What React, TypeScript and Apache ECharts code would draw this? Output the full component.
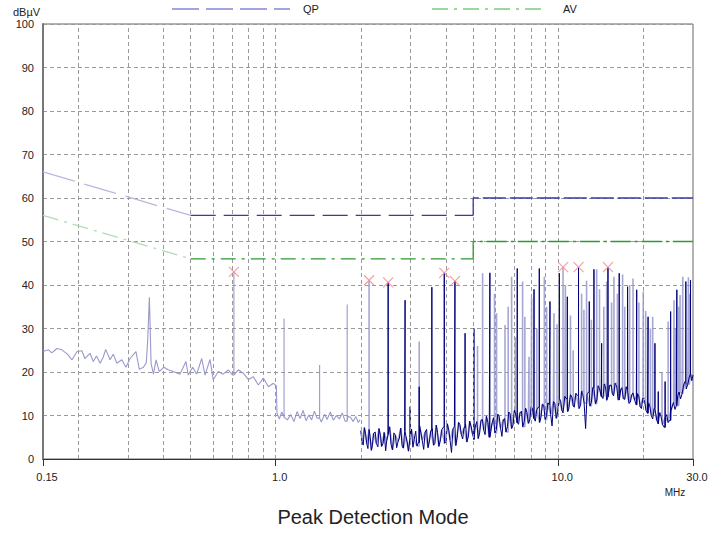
import React, { useEffect, useRef } from "react";
import * as echarts from "echarts";

// ---- axis / tick data ----
const xTickValues = [0.15, 1, 10, 30];
const xTickTexts = ["0.15", "1.0", "10.0", "30.0"];
const xGridValues = [0.2, 0.3, 0.4, 0.5, 0.6, 0.7, 0.8, 0.9, 1, 2, 3, 4, 5, 6, 7, 8, 9, 10, 20];

// ---- limit lines (MHz, dBµV) ----
const qpLimitFaded = [[0.15, 66], [0.5, 56]];
const qpLimitLow = [[0.5, 56], [5, 56]];
const qpLimitHigh = [[5, 56], [5, 60], [30, 60]];
const avLimitFaded = [[0.15, 56], [0.5, 46]];
const avLimitLow = [[0.5, 46], [5, 46]];
const avLimitHigh = [[5, 46], [5, 50], [30, 50]];

// ---- measured trace: low band (light trace) ----
const lowFloor = [
  [0.150, 24.7], [0.157, 25.1], [0.161, 24.4], [0.168, 25.4], [0.175, 25.1], [0.183, 24.1], [0.190, 22.8],
  [0.198, 24.7], [0.206, 24.9], [0.211, 23.1], [0.220, 24.3], [0.226, 22.4], [0.232, 23.7], [0.239, 22.0],
  [0.245, 23.4], [0.250, 25.2], [0.259, 22.8], [0.266, 24.1], [0.274, 22.0], [0.285, 22.8], [0.295, 21.1],
  [0.305, 23.1], [0.320, 24.7], [0.329, 20.6], [0.340, 21.1], [0.348, 22.1], [0.352, 27.0], [0.357, 37.2],
  [0.362, 22.0], [0.369, 19.5], [0.377, 22.8], [0.387, 20.1], [0.402, 21.1], [0.416, 20.5], [0.434, 20.1],
  [0.458, 19.5], [0.481, 22.4], [0.490, 19.3], [0.508, 21.1], [0.525, 19.5], [0.547, 23.1], [0.562, 19.3],
  [0.585, 22.9], [0.601, 18.2], [0.626, 20.1], [0.652, 19.5], [0.679, 20.5], [0.704, 19.3], [0.737, 20.5],
  [0.768, 19.7], [0.800, 18.3], [0.833, 18.9], [0.868, 17.0], [0.904, 18.6], [0.942, 16.6], [0.981, 17.4],
  [1.005, 16.8], [1.010, 10.5], [1.03, 9.2], [1.05, 10.8], [1.07, 9.6], [1.10, 9.0], [1.13, 10.2],
  [1.16, 8.6], [1.19, 10.9], [1.22, 9.3], [1.25, 11.2], [1.28, 8.8], [1.31, 10.1], [1.34, 9.0],
  [1.37, 11.0], [1.40, 9.4], [1.45, 8.5], [1.49, 10.3], [1.52, 9.1], [1.56, 10.8], [1.60, 8.9],
  [1.64, 10.0], [1.68, 9.2], [1.72, 10.6], [1.76, 8.7], [1.80, 9.8], [1.84, 9.6], [1.88, 8.6],
  [1.92, 9.8], [1.96, 8.4], [1.985, 9.0],
];

// ---- measured trace: 2–30 MHz noise floor (two interleaved reads of the band) ----
const highFloor = [
  [2.00, 6.5], [2.04, 3.2], [2.08, 5.8], [2.12, 2.4], [2.16, 4.9], [2.20, 3.1], [2.25, 6.2], [2.30, 2.8],
  [2.35, 5.4], [2.40, 3.6], [2.45, 1.9], [2.50, 5.7], [2.56, 3.3], [2.62, 6.0], [2.68, 2.6], [2.74, 4.8],
  [2.80, 3.0], [2.86, 6.3], [2.92, 3.9], [2.99, 5.1], [3.06, 2.7], [3.13, 6.4], [3.20, 3.8], [3.27, 5.9],
  [3.34, 2.2], [3.42, 6.8], [3.50, 4.1], [3.58, 7.0], [3.66, 3.5], [3.74, 6.1], [3.83, 4.4], [3.92, 7.3],
  [4.01, 4.0], [4.10, 6.6], [4.19, 1.5], [4.29, 7.5], [4.39, 5.0], [4.49, 7.9], [4.59, 4.6], [4.70, 8.0],
  [4.81, 5.3], [4.92, 7.4], [5.03, 4.5], [5.15, 8.6], [5.27, 6.0], [5.39, 9.1], [5.51, 5.6], [5.64, 8.4],
  [5.77, 6.3], [5.90, 9.5], [6.04, 6.9], [6.18, 9.8], [6.32, 5.2], [6.46, 9.3], [6.61, 7.4], [6.76, 10.4],
  [6.92, 7.8], [7.08, 10.1], [7.24, 8.0], [7.41, 11.0], [7.58, 8.6], [7.75, 10.7], [7.93, 9.0], [8.11, 11.6],
  [8.30, 8.7], [8.49, 11.9], [8.69, 9.6], [8.89, 12.2], [9.09, 10.0], [9.30, 12.5], [9.51, 7.6], [9.73, 12.8],
  [9.96, 10.9], [10.2, 13.4], [10.4, 10.6], [10.7, 13.8], [10.9, 11.5], [11.2, 14.1], [11.4, 11.9], [11.7, 14.6],
  [12.0, 12.3], [12.2, 15.0], [12.5, 7.0], [12.8, 15.4], [13.1, 13.0], [13.4, 15.9], [13.7, 13.6], [14.0, 16.2],
  [14.4, 13.9], [14.7, 16.6], [15.0, 14.3], [15.4, 17.0], [15.7, 14.5], [16.1, 16.8], [16.5, 14.0], [16.8, 16.4],
  [17.2, 13.7], [17.6, 15.8], [18.0, 13.1], [18.4, 15.2], [18.9, 12.4], [19.3, 14.3], [19.7, 11.6], [20.2, 13.4],
  [20.7, 10.5], [21.1, 12.1], [21.6, 9.2], [22.1, 10.8], [22.6, 8.1], [23.1, 9.9], [23.7, 7.3], [24.2, 10.2],
  [24.8, 8.9], [25.3, 12.0], [25.9, 11.4], [26.5, 14.6], [27.1, 13.8], [27.8, 17.0], [28.4, 16.1], [29.1, 18.8],
  [29.7, 18.0], [30.0, 19.3],
];
const highFloorMid = [
  [2.02, 4.0], [2.06, 7.2], [2.10, 3.5], [2.14, 6.8], [2.18, 2.0], [2.22, 5.9], [2.27, 3.6], [2.32, 7.0],
  [2.37, 2.9], [2.42, 6.1], [2.47, 4.2], [2.53, 7.4], [2.59, 2.1], [2.65, 5.5], [2.71, 4.0], [2.77, 7.1],
  [2.83, 2.5], [2.89, 5.2], [2.95, 1.8], [3.02, 6.9], [3.09, 4.5], [3.16, 3.0], [3.23, 7.6], [3.30, 4.3],
  [3.38, 6.2], [3.46, 2.6], [3.54, 6.5], [3.62, 3.2], [3.70, 7.8], [3.78, 2.9], [3.87, 6.7], [3.96, 3.6],
  [4.05, 8.1], [4.14, 4.4], [4.24, 6.9], [4.34, 3.1], [4.44, 8.4], [4.54, 5.6], [4.64, 7.2], [4.75, 3.9],
  [4.86, 8.7], [4.97, 5.8], [5.09, 7.6], [5.21, 4.7], [5.33, 8.9], [5.45, 6.6], [5.57, 9.8], [5.70, 5.0],
  [5.83, 8.2], [5.97, 6.0], [6.11, 10.3], [6.25, 7.1], [6.39, 9.0], [6.53, 6.2], [6.68, 10.8], [6.84, 7.0],
  [7.00, 11.2], [7.16, 8.3], [7.32, 10.6], [7.49, 7.4], [7.66, 11.7], [7.84, 8.2], [8.02, 12.0], [8.20, 9.3],
  [8.39, 11.3], [8.59, 8.4], [8.79, 12.6], [8.99, 9.1], [9.19, 12.9], [9.40, 10.2], [9.62, 13.2], [9.84, 9.4],
  [10.08, 13.9], [10.3, 11.2], [10.55, 14.4], [10.8, 10.9], [11.05, 14.8], [11.3, 12.2], [11.55, 15.1], [11.85, 11.6],
  [12.1, 15.6], [12.35, 12.9], [12.65, 14.8], [12.95, 12.2], [13.25, 16.4], [13.55, 12.7], [13.85, 16.8], [14.2, 14.4],
  [14.55, 17.2], [14.85, 13.5], [15.2, 16.9], [15.55, 15.0], [15.9, 17.4], [16.3, 13.6], [16.65, 16.0], [17.0, 13.9],
  [17.4, 16.6], [17.8, 12.8], [18.2, 14.7], [18.65, 13.5], [19.1, 15.0], [19.5, 12.0], [19.95, 14.0], [20.45, 11.2],
  [20.9, 12.8], [21.35, 10.0], [21.85, 11.6], [22.35, 8.8], [22.85, 10.6], [23.4, 7.9], [23.95, 9.6], [24.5, 8.4],
  [25.05, 11.1], [25.6, 13.0], [26.2, 12.3], [26.8, 15.4], [27.45, 15.0], [28.1, 17.8], [28.75, 17.2], [29.4, 19.6],
  [29.85, 18.6],
];

// ---- spikes (MHz, peak dBµV) ----
const lowLightSpikes = [[0.711, 43.0], [1.07, 32.3], [1.43, 21.6], [1.79, 35.5]];
const highLightSpikes = [
  [2.14, 41.1], [3.22, 27.0], [5.18, 26.0], [5.40, 42.7], [5.95, 38.0], [6.05, 33.5], [6.48, 30.8],
  [6.65, 35.0], [6.84, 41.9], [7.05, 28.0], [7.48, 40.8], [7.62, 32.7], [7.88, 23.5], [8.05, 37.0],
  [8.40, 30.0], [8.93, 41.9], [9.10, 35.0], [9.66, 33.5], [9.90, 31.0], [10.4, 44.1], [10.6, 40.0],
  [11.05, 33.0], [11.3, 25.0], [12.1, 38.0], [12.33, 34.3], [12.6, 41.0], [13.1, 32.0], [13.68, 43.6],
  [14.0, 39.0], [14.5, 35.0], [14.84, 40.8], [15.45, 36.0], [15.75, 41.9], [16.2, 38.0], [16.9, 42.4],
  [17.2, 35.0], [17.9, 40.0], [18.4, 41.5], [19.3, 36.0], [20.0, 38.5], [20.4, 34.0], [21.2, 30.0],
  [21.6, 32.7], [23.3, 20.0], [24.5, 31.6], [25.7, 36.5], [26.0, 30.0], [26.7, 35.0], [27.0, 37.7],
  [27.6, 41.9], [28.9, 41.8], [29.1, 38.0],
];
const darkSpikes = [
  [2.50, 40.6], [2.87, 36.5], [2.99, 12.0], [3.22, 16.6], [3.57, 39.5], [3.95, 42.8], [4.31, 40.9],
  [4.68, 28.9], [5.03, 30.0], [5.73, 42.8], [7.16, 43.8], [8.21, 39.0], [8.57, 43.8], [9.35, 36.2],
  [10.09, 42.7], [10.77, 37.3], [11.8, 44.0], [12.88, 36.2], [13.38, 43.6], [14.25, 26.6], [15.0, 44.0],
  [16.44, 42.7], [17.6, 39.6], [18.96, 38.9], [20.8, 32.7], [22.0, 26.6], [22.6, 15.5], [23.9, 17.8],
  [25.0, 33.9], [26.3, 38.9], [28.3, 40.8], [29.4, 41.1],
];

// ---- peak markers ----
const peakMarkers = [
  [0.711, 43.0], [2.14, 41.1], [2.50, 40.6], [3.95, 42.8], [4.31, 40.9], [10.4, 44.1], [11.8, 44.1], [15.0, 44.1],
];

function mergeFloor(a: number[][], b: number[][]) {
  return [...a, ...b].sort((p, q) => p[0] - q[0]);
}

function withSpikes(floor: number[][], spikes: number[][]) {
  const all = [
    ...floor.map((p) => [p[0], p[1], 0]),
    ...spikes.map((s) => [s[0], s[1], 1]),
  ].sort((a, b) => a[0] - b[0] || a[2] - b[2]);
  const out: number[][] = [];
  let last = floor[0][1];
  for (const [f, d, isSpike] of all) {
    if (isSpike) {
      out.push([f, last], [f, d], [f, last]);
    } else {
      out.push([f, d]);
      last = d;
    }
  }
  return out;
}

const FONT = "Liberation Sans, Arial, Helvetica, sans-serif";

export default function App() {
  const ref = useRef<HTMLDivElement>(null);
  useEffect(() => {
    if (!ref.current) return;
    const chart = echarts.init(ref.current, undefined, { renderer: "svg" });
    const fullHigh = mergeFloor(highFloor, highFloorMid);
    const lightLowData = withSpikes(lowFloor, lowLightSpikes);
    const lightHighData = withSpikes(highFloorMid, highLightSpikes);
    const darkData = withSpikes(fullHigh, darkSpikes);
    const lineBase = {
      type: "line",
      showSymbol: false,
      symbol: "none",
      silent: true,
      animation: false,
    } as any;
    const textStyle = (extra: any) => ({
      fontFamily: FONT,
      fill: "#222",
      ...extra,
    });
    chart.setOption({
      animation: false,
      grid: {
        left: 43,
        right: 30,
        top: 24,
        bottom: 74,
        show: true,
        borderColor: "#666",
        borderWidth: 1,
        backgroundColor: "transparent",
      },
      xAxis: {
        type: "log",
        logBase: 10,
        min: 0.15,
        max: 30,
        axisLine: { show: true, onZero: false, lineStyle: { color: "#333", width: 1 } },
        axisTick: {
          show: true,
          length: 7,
          customValues: xTickValues,
          lineStyle: { color: "#333" },
        },
        axisLabel: {
          customValues: xTickValues,
          fontSize: 11,
          color: "#222",
          fontFamily: FONT,
          margin: 12,
          padding: [0, 0, 0, 8],
          formatter: (v: number) => {
            let best = 0;
            for (let i = 0; i < xTickValues.length; i++) {
              if (Math.abs(Math.log10(v) - Math.log10(xTickValues[i])) < Math.abs(Math.log10(v) - Math.log10(xTickValues[best]))) best = i;
            }
            return xTickTexts[best];
          },
        },
        splitLine: { show: false },
        minorTick: { show: false },
      },
      yAxis: {
        type: "value",
        min: 0,
        max: 100,
        interval: 10,
        axisLine: { show: true, lineStyle: { color: "#777", width: 2 } },
        axisTick: { show: false },
        axisLabel: { fontSize: 11, color: "#222", fontFamily: FONT, margin: 9 },
        splitLine: { show: true, lineStyle: { color: "#9a9a9a", type: [4, 3], width: 1 } },
      },
      graphic: [
        {
          type: "line",
          shape: { x1: 172, y1: 9, x2: 290, y2: 9 },
          style: { stroke: "#8585d6", lineWidth: 1.5, lineDash: [27, 7] },
        },
        {
          type: "text",
          x: 303,
          y: 9,
          style: textStyle({ text: "QP", fontSize: 11, align: "left", verticalAlign: "middle", textAlign: "left", textVerticalAlign: "middle" }),
        },
        {
          type: "line",
          shape: { x1: 432, y1: 9, x2: 545, y2: 9 },
          style: { stroke: "#80c880", lineWidth: 1.5, lineDash: [16, 6, 3, 6] },
        },
        {
          type: "text",
          x: 563,
          y: 9,
          style: textStyle({ text: "AV", fontSize: 11, align: "left", verticalAlign: "middle", textAlign: "left", textVerticalAlign: "middle" }),
        },
        {
          type: "text",
          x: 13,
          y: 12,
          style: textStyle({ text: "dBµV", fontSize: 11, align: "left", verticalAlign: "middle", textAlign: "left", textVerticalAlign: "middle" }),
        },
        {
          type: "text",
          x: 675,
          y: 492,
          style: textStyle({ text: "MHz", fontSize: 10, align: "center", verticalAlign: "middle", textAlign: "center", textVerticalAlign: "middle" }),
        },
        {
          type: "text",
          x: 373,
          y: 517,
          style: textStyle({ text: "Peak Detection Mode", fontSize: 20, align: "center", verticalAlign: "middle", textAlign: "center", textVerticalAlign: "middle" }),
        },
      ],
      series: [
        {
          ...lineBase,
          name: "grid",
          z: 1,
          data: qpLimitLow,
          lineStyle: { width: 0, opacity: 0 },
          markLine: {
            silent: true,
            symbol: ["none", "none"],
            label: { show: false },
            emphasis: { disabled: true },
            animation: false,
            lineStyle: { color: "#9a9a9a", type: [4, 3], width: 1 },
            data: xGridValues.map((v) => ({ xAxis: v })),
          },
        },
        {
          ...lineBase,
          name: "light trace low",
          z: 3,
          data: lightLowData,
          lineStyle: { color: "#8e8ec6", width: 1.1, opacity: 0.9 },
        },
        {
          ...lineBase,
          name: "light trace high",
          z: 3,
          data: lightHighData,
          lineStyle: { color: "#9898cc", width: 1.6, opacity: 0.85 },
        },
        {
          ...lineBase,
          name: "dark trace",
          z: 4,
          data: darkData,
          lineStyle: { color: "#00007c", width: 1 },
        },
        {
          ...lineBase,
          name: "QP faded",
          z: 5,
          data: qpLimitFaded,
          lineStyle: { color: "#b8b8de", width: 1.3, type: [33, 10] },
        },
        {
          ...lineBase,
          name: "QP",
          z: 5,
          data: qpLimitLow,
          lineStyle: { color: "#3838a8", width: 1.3, type: [25, 8] },
        },
        {
          ...lineBase,
          name: "QP high",
          z: 5,
          data: qpLimitHigh,
          lineStyle: { color: "#3838a8", width: 1.3, type: [23, 4] },
        },
        {
          ...lineBase,
          name: "AV faded",
          z: 5,
          data: avLimitFaded,
          lineStyle: { color: "#b0dcb0", width: 1.3, type: [16, 6, 3, 6] },
        },
        {
          ...lineBase,
          name: "AV",
          z: 5,
          data: avLimitLow,
          lineStyle: { color: "#2e9b2e", width: 1.3, type: [15, 6, 3, 6] },
        },
        {
          ...lineBase,
          name: "AV high",
          z: 5,
          data: avLimitHigh,
          lineStyle: { color: "#2e9b2e", width: 1.3, type: [20, 4, 3, 4] },
        },
        {
          type: "scatter",
          name: "peaks",
          z: 6,
          silent: true,
          symbol: "path://M0,0L10,10M10,0L0,10",
          symbolSize: 10,
          data: peakMarkers,
          itemStyle: { color: "rgba(0,0,0,0)", borderColor: "#f08a8a", borderWidth: 1.2 },
        },
      ],
    });
    return () => chart.dispose();
  }, []);
  return (
    <div
      ref={ref}
      style={{ position: "fixed", left: 0, top: 0, width: 723, height: 533, background: "#fff" }}
    />
  );
}
